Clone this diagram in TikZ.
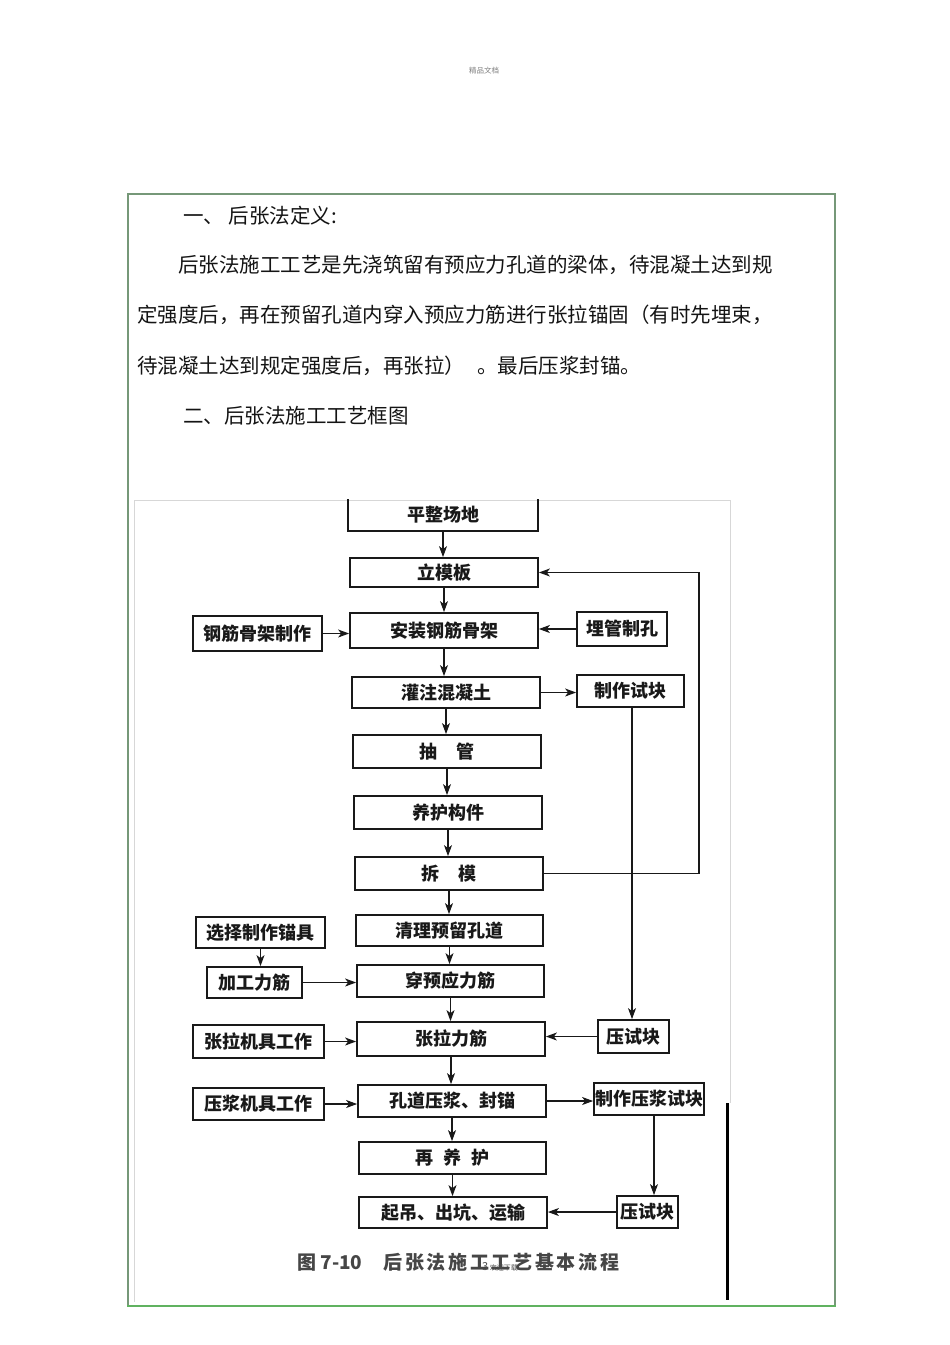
\documentclass[tikz,border=0pt]{standalone}
\usepackage{fontspec}
\setmainfont{Noto Sans CJK SC}
\newfontfamily\cjk{Noto Sans CJK SC}
\newfontfamily\capfont[LetterSpace=14]{Noto Sans CJK SC}
\usetikzlibrary{arrows.meta}
\definecolor{frameg}{RGB}{118,152,120}
\definecolor{frameb}{RGB}{96,178,96}
\definecolor{boxc}{RGB}{25,25,25}
\definecolor{textc}{RGB}{20,20,20}
\definecolor{capc}{RGB}{70,70,70}
\definecolor{imgb}{RGB}{215,215,215}
\begin{document}
\begin{tikzpicture}[x=1pt,y=-1pt,
  fbox/.style={draw=boxc, line width=1.8pt, inner sep=0pt, text=boxc,
    font=\cjk\fontsize{18}{18}\selectfont\bfseries},
  boxline/.style={draw=boxc, line width=1.8pt},
  arr/.style={draw=boxc, line width=1.1pt, -{Stealth[length=11pt,width=8pt,inset=3pt]}},
  body/.style={font=\cjk\fontsize{20.5}{20.5}\selectfont, anchor=west, inner sep=0pt, text=textc}]
\useasboundingbox (0,0) rectangle (950,1345);
\fill[white] (0,0) rectangle (950,1345);

% header
\node[font=\cjk\fontsize{7.5}{7.5}\selectfont, text=gray, inner sep=0pt] (hdr) at (484,71) {精品文档};

% green frame
\draw[frameg, line width=1.6pt] (128,1306) -- (128,194) -- (835,194) -- (835,1306);
\draw[frameb, line width=1.6pt] (127.2,1306) -- (835.8,1306);

% body text
\node[body] (t1) at (183,216) {一、 后张法定义:};
\node[body] (t2) at (178,265) {后张法施工工艺是先浇筑留有预应力孔道的梁体，待混凝土达到规};
\node[body] (t3) at (137,315) {定强度后，再在预留孔道内穿入预应力筋进行张拉锚固（有时先埋束，};
\node[body] (t4) at (137,366) {待混凝土达到规定强度后，再张拉）\hspace{0.6em}。最后压浆封锚。};
\node[body] (t5) at (183,416) {二、后张法施工工艺框图};

% embedded picture border
\draw[imgb, line width=1pt] (134.3,1302) -- (134.3,500) -- (730.7,500) -- (730.7,1103);
\draw[black, line width=2.6pt] (727.7,1103) -- (727.7,1300);

% main column
\node[fbox, draw=none, minimum width=188pt, minimum height=30pt] (p1) at (443,515) {平整场地};
\draw[boxline] (p1.north west) -- (p1.south west) -- (p1.south east) -- (p1.north east);
\node[fbox, minimum width=188pt, minimum height=29pt] (p2) at (444,572.5) {立模板};
\node[fbox, minimum width=188pt, minimum height=35pt] (p3) at (444,630.5) {安装钢筋骨架};
\node[fbox, minimum width=188pt, minimum height=31pt] (p4) at (446,692.5) {灌注混凝土};
\node[fbox, minimum width=188pt, minimum height=33pt] (p5) at (447,751.5) {抽\hspace{1.1em}管};
\node[fbox, minimum width=188pt, minimum height=33pt] (p6) at (448,812.5) {养护构件};
\node[fbox, minimum width=188pt, minimum height=33pt] (p7) at (449,873.5) {拆\hspace{1.1em}模};
\node[fbox, minimum width=187pt, minimum height=31pt] (p8) at (449.5,930.5) {清理预留孔道};
\node[fbox, minimum width=187pt, minimum height=32pt] (p9) at (450.5,981) {穿预应力筋};
\node[fbox, minimum width=188pt, minimum height=34pt] (p10) at (451,1039) {张拉力筋};
\node[fbox, minimum width=188pt, minimum height=32pt] (p11) at (452,1101) {孔道压浆、封锚};
\node[fbox, minimum width=187pt, minimum height=32pt] (p12) at (452.5,1158) {再\hspace{0.55em}养\hspace{0.55em}护};
\node[fbox, minimum width=188pt, minimum height=31pt] (p13) at (453,1212.5) {起吊、出坑、运输};

% side boxes
\node[fbox, minimum width=129pt, minimum height=35pt] (s1) at (257.5,633.5) {钢筋骨架制作};
\node[fbox, minimum width=90pt, minimum height=34pt] (s2) at (622,629) {埋管制孔};
\node[fbox, minimum width=107pt, minimum height=32pt] (s3) at (630.5,691) {制作试块};
\node[fbox, minimum width=129pt, minimum height=31pt] (s4) at (260.5,932.5) {选择制作锚具};
\node[fbox, minimum width=95pt, minimum height=31pt] (s5) at (254.5,982.5) {加工力筋};
\node[fbox, minimum width=131pt, minimum height=33pt] (s6) at (258.5,1041.5) {张拉机具工作};
\node[fbox, minimum width=71pt, minimum height=33pt] (s7) at (633.5,1036.5) {压试块};
\node[fbox, minimum width=131pt, minimum height=32pt] (s8) at (258.5,1104) {压浆机具工作};
\node[fbox, minimum width=110pt, minimum height=32pt] (s9) at (649,1099) {制作压浆试块};
\node[fbox, minimum width=61pt, minimum height=32pt] (s10) at (647.5,1212) {压试块};

% vertical main arrows
\foreach \a/\b in {p1/p2,p2/p3,p3/p4,p4/p5,p5/p6,p6/p7,p7/p8,p8/p9,p9/p10,p10/p11,p11/p12,p12/p13}
  \draw[arr] (\a.south) -- (\a.south |- \b.north);

% side arrows
\draw[arr] (s1.east) -- (s1.east -| p3.west);
\draw[arr] (s2.west) -- (s2.west -| p3.east);
\draw[arr] (p4.east) -- (p4.east -| s3.west);
\coordinate (v1) at (632,0);
\draw[arr] (v1 |- s3.south) -- (v1 |- s7.north);
\coordinate (fb) at (699,0);
\draw[arr] (p7.east) -- (p7.east -| fb) |- (p2.east);
\draw[arr] (s4.south) -- (s4.south |- s5.north);
\draw[arr] (s5.east) -- (s5.east -| p9.west);
\draw[arr] (s6.east) -- (s6.east -| p10.west);
\draw[arr] (s7.west) -- (s7.west -| p10.east);
\draw[arr] (s8.east) -- (s8.east -| p11.west);
\draw[arr] (p11.east) -- (p11.east -| s9.west);
\coordinate (v2) at (654,0);
\draw[arr] (v2 |- s9.south) -- (v2 |- s10.north);
\draw[arr] (s10.west) -- (s10.west -| p13.east);

% caption
\node[font=\cjk\fontsize{19}{19}\selectfont\bfseries, text=capc, inner sep=0pt, anchor=west] (cap) at (297,1262) {图 7-10\hspace{1.1em}{\capfont 后张法施工工艺基本流程}};
\node[font=\cjk\fontsize{7}{7}\selectfont, text=black!70, inner sep=0pt] (pg) at (500,1267) {{\fontsize{11}{11}\selectfont 3} 欢迎下载};
\end{tikzpicture}
\end{document}
